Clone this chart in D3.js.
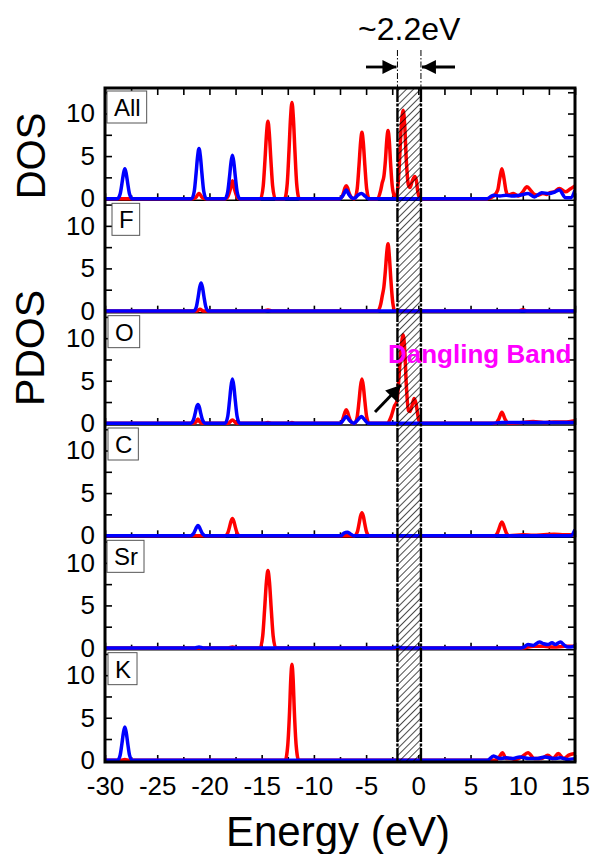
<!DOCTYPE html>
<html>
<head>
<meta charset="utf-8">
<script src="https://cdn.jsdelivr.net/npm/d3@7"></script>
<style>
  body { margin: 0; background: #fff; }
  svg { display: block; font-family: "Liberation Sans", Arial, sans-serif; }
</style>
</head>
<body>
<svg id="chart" width="592" height="854"></svg>
<script>
// panel labels, top to bottom
const panelNames = ["All", "F", "O", "C", "Sr", "K"];

// [energy (eV), states]
const allRed = [[-30,0],[-21.6,0],[-21.3,0.15],[-21.1,0.5],[-21.0,0.6],[-20.9,0.5],[-20.7,0.15],[-20.4,0],
  [-18.45,0],[-18.2,0.35],[-18.0,1.1],[-17.8,2.1],[-17.6,1.1],[-17.4,0.35],[-17.15,0],
  [-15.1,0],[-14.85,1.5],[-14.68,4.6],[-14.53,7.7],[-14.4,9.1],[-14.27,7.7],[-14.12,4.6],[-13.95,1.5],[-13.7,0],
  [-12.8,0],[-12.55,1.8],[-12.38,5.7],[-12.23,9.6],[-12.1,11.3],[-11.97,9.6],[-11.82,5.7],[-11.65,1.8],[-11.4,0],
  [-7.55,0],[-7.3,0.25],[-7.15,0.75],[-7.02,1.3],[-6.9,1.5],[-6.78,1.3],[-6.65,0.75],[-6.45,0.2],[-6.2,0],
  [-6.1,0],[-5.85,1.2],[-5.68,3.9],[-5.53,6.6],[-5.4,7.8],[-5.27,6.6],[-5.12,3.9],[-4.95,1.2],[-4.7,0],
  [-3.9,0],[-3.6,1.0],[-3.45,1.9],[-3.3,2.6],[-3.15,4.5],[-3.02,6.9],[-2.9,8.0],[-2.78,6.8],[-2.65,4.0],[-2.5,1.5],[-2.3,0.3],
  [-2.15,0.1],[-1.95,1.5],[-1.8,4.5],[-1.65,8.2],[-1.45,10.4],[-1.3,8.5],[-1.15,4.5],[-0.95,1.6],[-0.8,1.3],
  [-0.6,2.0],[-0.35,2.6],[-0.2,2.2],[-0.05,0.8],[0.15,0],
  [6.6,0],[7.2,0.3],[7.6,1.0],[7.8,2.4],[8.0,3.5],[8.2,2.4],[8.4,0.9],[8.6,0.4],[9.1,0.6],[9.6,0.3],[10.0,0.8],
  [10.4,1.4],[10.8,0.9],[11.1,0.5],[11.5,0.4],[11.9,0.6],[12.3,0.5],[12.6,0.7],[13.0,0.8],[13.5,1.2],[14.1,0.8],[14.5,1.1],[15,1.5]];
const allBlue = [[-30,0],[-28.8,0],[-28.55,0.55],[-28.38,1.75],[-28.23,2.95],[-28.1,3.5],[-27.97,2.95],[-27.82,1.75],[-27.65,0.55],[-27.4,0],
  [-21.7,0],[-21.45,0.9],[-21.28,2.95],[-21.13,5.0],[-21.0,5.9],[-20.87,5.0],[-20.72,2.95],[-20.55,0.9],[-20.3,0],
  [-18.5,0],[-18.25,0.8],[-18.08,2.55],[-17.93,4.3],[-17.8,5.1],[-17.67,4.3],[-17.52,2.55],[-17.35,0.8],[-17.1,0],
  [-7.5,0],[-7.2,0.4],[-6.9,1.0],[-6.6,0.4],[-6.3,0.05],[-6.1,0.05],[-5.8,0.4],[-5.45,0.6],[-5.1,0.3],[-4.8,0],
  [6.6,0],[7.0,0.3],[7.2,0.4],[7.8,0.3],[8.4,0.4],[8.9,0.3],[9.7,0.4],[10.5,0.6],[11.1,0.2],[11.8,0.7],[12.5,0.6],
  [13.1,0.8],[13.5,1.0],[14.1,0.1],[14.6,0.1],[15,1.0]];

const fRed = [[-30,0],[-21.2,0],[-20.9,0.2],[-20.6,0],[-14.8,0],[-14.4,0.1],[-14.0,0],
  [-3.9,0],[-3.6,0.8],[-3.45,1.8],[-3.3,2.8],[-3.15,4.8],[-3.02,6.9],[-2.9,7.9],[-2.78,6.5],[-2.62,3.5],[-2.45,1.0],[-2.25,0],
  [9.6,0],[10.0,0.15],[10.4,0],[15,0]];
const fBlue = [[-30,0],[-21.5,0],[-21.25,0.5],[-21.08,1.65],[-20.93,2.8],[-20.8,3.3],[-20.67,2.8],[-20.52,1.65],[-20.35,0.5],[-20.1,0],[15,0]];

const oRed = [[-30,0],[-21.6,0],[-21.3,0.15],[-21.1,0.5],[-20.9,0.15],[-20.6,0],[-18.2,0],[-17.8,0.4],[-17.4,0],
  [-14.8,0],[-14.4,0.1],[-14.0,0],[-12.4,0],[-12.1,0.1],[-11.8,0],
  [-7.5,0],[-7.3,0.25],[-7.15,0.8],[-7.02,1.35],[-6.9,1.6],[-6.78,1.35],[-6.65,0.8],[-6.45,0.2],[-6.2,0],
  [-6.1,0],[-5.85,0.8],[-5.68,2.6],[-5.53,4.4],[-5.4,5.2],[-5.27,4.4],[-5.12,2.6],[-4.95,0.8],[-4.7,0],
  [-3.0,0],[-2.6,0.8],[-2.3,2.0],[-2.05,2.6],[-1.85,5.5],[-1.65,8.8],[-1.45,10.4],[-1.3,8.5],[-1.15,4.5],[-0.95,1.5],
  [-0.8,1.4],[-0.6,2.1],[-0.4,2.9],[-0.2,2.2],[0.0,0.6],[0.15,0],
  [7.4,0],[7.7,0.5],[8.0,1.3],[8.3,0.5],[8.6,0],[10,0.1],[11,0.2],[12,0.1],[13,0.15],[14,0.15],[15,0.3]];
const oBlue = [[-30,0],[-21.8,0],[-21.55,0.35],[-21.38,1.1],[-21.23,1.9],[-21.1,2.2],[-20.97,1.9],[-20.82,1.1],[-20.65,0.35],[-20.4,0],
  [-18.5,0],[-18.25,0.8],[-18.08,2.6],[-17.93,4.4],[-17.8,5.2],[-17.67,4.4],[-17.52,2.6],[-17.35,0.8],[-17.1,0],
  [-7.5,0],[-7.2,0.35],[-6.9,0.8],[-6.6,0.35],[-6.2,0],[-5.8,0.4],[-5.45,0.8],[-5.1,0.35],[-4.8,0],
  [7,0],[8,0.1],[15,0.1]];

const cRed = [[-30,0],[-18.5,0],[-18.25,0.3],[-18.08,1.0],[-17.93,1.7],[-17.8,2.0],[-17.67,1.7],[-17.52,1.0],[-17.35,0.3],[-17.1,0],
  [-6.1,0],[-5.85,0.4],[-5.68,1.35],[-5.53,2.3],[-5.4,2.7],[-5.27,2.3],[-5.12,1.35],[-4.95,0.4],[-4.7,0],
  [7.3,0],[7.55,0.25],[7.72,0.8],[7.87,1.35],[8.0,1.6],[8.13,1.35],[8.28,0.8],[8.45,0.25],[8.7,0],
  [10,0.1],[11,0.05],[12,0.1],[13,0.15],[14,0.1],[15,0.1]];
const cBlue = [[-30,0],[-21.8,0],[-21.55,0.2],[-21.38,0.6],[-21.23,1.0],[-21.1,1.2],[-20.97,1.0],[-20.82,0.6],[-20.65,0.2],[-20.4,0],
  [-7.4,0],[-7.1,0.3],[-6.8,0.4],[-6.5,0.2],[-6.2,0],[14.6,0],[15,0.7]];

const srRed = [[-30,0],[-18.2,0],[-17.8,0.1],[-17.4,0],
  [-15.15,0],[-14.9,1.4],[-14.72,4.5],[-14.55,7.7],[-14.4,9.1],[-14.25,7.7],[-14.08,4.5],[-13.9,1.4],[-13.65,0],
  [10,0],[11,0.2],[12,0.2],[13,0.1],[14,0.2],[15,0.2]];
const srBlue = [[-30,0],[-21.4,0],[-21.0,0.1],[-20.6,0],[-2.5,0],[-2.0,0.1],[-1.5,0],
  [9.8,0],[10.1,0.1],[10.5,0.4],[11.0,0.3],[11.6,0.7],[12.0,0.5],[12.4,0.4],[12.8,0.6],[13.1,0.4],[13.6,0.7],
  [14.0,0.3],[14.3,0.1],[14.8,0.15],[15,0.3]];

const kRed = [[-30,0],[-28.5,0],[-28.1,0.1],[-27.7,0],
  [-12.75,0],[-12.5,1.8],[-12.33,5.7],[-12.21,9.6],[-12.1,11.3],[-11.99,9.6],[-11.87,5.7],[-11.7,1.8],[-11.45,0],
  [7.2,0],[7.5,0.1],[7.8,0.5],[8.05,0.9],[8.4,0.2],[8.9,0.2],[9.3,0.1],[9.9,0.4],[10.5,0.9],[11.1,0.2],[11.8,0.2],
  [12.4,0.6],[12.9,0.2],[13.4,0.8],[13.9,0.2],[14.4,0.6],[15,0.8]];
const kBlue = [[-30,0],[-28.8,0],[-28.55,0.6],[-28.38,1.95],[-28.23,3.3],[-28.1,3.9],[-27.97,3.3],[-27.82,1.95],[-27.65,0.6],[-27.4,0],
  [6.6,0],[7.2,0.5],[7.8,0.2],[8.4,0.3],[9.1,0.2],[9.7,0.4],[10.6,0.2],[11.4,0.2],[12.1,0.4],[13.0,0.2],[13.6,0.3],[14.3,0.1],[15,0.2]];

const redSeries = [allRed, fRed, oRed, cRed, srRed, kRed];
const blueSeries = [allBlue, fBlue, oBlue, cBlue, srBlue, kBlue];

const xTicks = [-30, -25, -20, -15, -10, -5, 0, 5, 10, 15];
const xMinorTicks = [-27.5, -22.5, -17.5, -12.5, -7.5, -2.5, 2.5, 7.5, 12.5];
const yTicks = [0, 5, 10];
const yMinorTicks = [2.5, 7.5, 12.5];
const gapEdges = [-2.0, 0.25];   // hatched band gap, eV
const gapLabel = "~2.2eV";

// layout
const svg = d3.select("#chart");
const plotLeft = 105, plotRight = 575, plotTop = 88, plotBottom = 762;
const ph = (plotBottom - plotTop) / panelNames.length;
const labelDx = [2, 7, 3, 3, 2, 3];

const x = d3.scaleLinear().domain([-30, 15]).range([plotLeft, plotRight]);

const defs = svg.append("defs");
defs.append("clipPath").attr("id", "plotclip")
    .append("rect").attr("x", plotLeft).attr("y", plotTop - 10)
    .attr("width", plotRight - plotLeft).attr("height", plotBottom - plotTop + 10);

const hatch = defs.append("pattern")
    .attr("id", "hatch")
    .attr("patternUnits", "userSpaceOnUse")
    .attr("width", 5).attr("height", 5)
    .attr("patternTransform", "rotate(45)");
hatch.append("line")
    .attr("x1", 0).attr("y1", 0).attr("x2", 0).attr("y2", 5)
    .attr("stroke", "#000").attr("stroke-width", 1.4);

defs.append("marker")
    .attr("id", "head")
    .attr("viewBox", "0 0 10 10")
    .attr("refX", 10).attr("refY", 5)
    .attr("markerWidth", 6).attr("markerHeight", 5)
    .attr("markerUnits", "strokeWidth")
    .attr("orient", "auto")
    .append("path").attr("d", "M0,0 L10,5 L0,10 Z").attr("fill", "#000");

panelNames.forEach((name, i) => {
    const pTop = plotTop + i * ph;
    const y = d3.scaleLinear().domain([-0.2, 13]).range([pTop + ph, pTop]);
    const g = svg.append("g");

    // bottom axis of the panel, ticks pointing in
    const bAxis = g.append("g").attr("transform", `translate(0,${pTop + ph})`)
        .call(d3.axisBottom(x).tickValues(xTicks).tickSize(-7).tickPadding(15));
    g.append("g").attr("transform", `translate(0,${pTop + ph})`)
        .call(d3.axisBottom(x).tickValues(xMinorTicks).tickSize(-5).tickFormat(""));
    if (i === 0) {
        g.append("g").attr("transform", `translate(0,${pTop})`)
            .call(d3.axisTop(x).tickValues(xTicks.concat(xMinorTicks)).tickSize(-7).tickFormat(""));
    }

    g.append("g").attr("transform", `translate(${plotLeft},0)`)
        .call(d3.axisLeft(y).tickValues(yTicks).tickSize(-7).tickPadding(10).tickFormat(d3.format("d")));
    g.append("g").attr("transform", `translate(${plotLeft},0)`)
        .call(d3.axisLeft(y).tickValues(yMinorTicks).tickSize(-7).tickFormat(""));
    g.append("g").attr("transform", `translate(${plotRight},0)`)
        .call(d3.axisRight(y).tickValues(yTicks.concat(yMinorTicks).filter(v => v > 0)).tickSize(-7).tickFormat(""));

    g.selectAll(".domain").remove();
    g.selectAll(".tick line").attr("stroke", "#000").attr("stroke-width", 1.6);
    g.selectAll(".tick text").attr("fill", "#000").attr("font-size", "26px")
        .attr("font-family", "'Liberation Sans', Arial, sans-serif");
    bAxis.selectAll(".tick text").text(d => i === panelNames.length - 1 ? String(d) : "");

    // panel separator
    g.append("line")
        .attr("x1", plotLeft).attr("x2", plotRight)
        .attr("y1", pTop + ph).attr("y2", pTop + ph)
        .attr("stroke", "#000").attr("stroke-width", 1.5);

    const line = d3.line()
        .x(d => x(d[0]))
        .y(d => y(d[1]))
        .curve(d3.curveMonotoneX);

    g.append("path")
        .datum(redSeries[i])
        .attr("clip-path", "url(#plotclip)")
        .attr("fill", "none")
        .attr("stroke", "#ff0000")
        .attr("stroke-width", 3.5)
        .attr("stroke-linejoin", "round")
        .attr("d", line);

    g.append("path")
        .datum(blueSeries[i])
        .attr("clip-path", "url(#plotclip)")
        .attr("fill", "none")
        .attr("stroke", "#0000ff")
        .attr("stroke-width", 3.5)
        .attr("stroke-linejoin", "round")
        .attr("d", line);

    // element label in a box
    const box = g.append("rect");
    const lbl = g.append("text")
        .attr("x", plotLeft + labelDx[i] + 7)
        .attr("y", pTop + 28)
        .attr("font-size", "24px")
        .attr("fill", "#000")
        .text(name);
    const bb = lbl.node().getBBox();
    box.attr("x", plotLeft + labelDx[i]).attr("y", pTop + 3)
        .attr("width", bb.width + 13).attr("height", 32)
        .attr("fill", "#fff").attr("stroke", "#555").attr("stroke-width", 1);
});

// hatched gap band
const gx0 = x(gapEdges[0]), gx1 = x(gapEdges[1]);
svg.append("rect")
    .attr("x", gx0).attr("y", plotTop)
    .attr("width", gx1 - gx0).attr("height", plotBottom - plotTop)
    .attr("fill", "url(#hatch)");
[gx0, gx1].forEach(gx => {
    svg.append("line")
        .attr("x1", gx).attr("x2", gx).attr("y1", plotTop).attr("y2", plotBottom)
        .attr("stroke", "#000").attr("stroke-width", 2.4)
        .attr("stroke-dasharray", "14,1.5,3,1.5");
    svg.append("line")
        .attr("x1", gx).attr("x2", gx).attr("y1", 50).attr("y2", plotTop)
        .attr("stroke", "#000").attr("stroke-width", 1)
        .attr("stroke-dasharray", "6,2,1.5,2");
});

// frame
svg.append("rect")
    .attr("x", plotLeft).attr("y", plotTop)
    .attr("width", plotRight - plotLeft).attr("height", plotBottom - plotTop)
    .attr("fill", "none").attr("stroke", "#000").attr("stroke-width", 3);

// gap arrows
svg.append("line")
    .attr("x1", 366).attr("x2", gx0 - 1).attr("y1", 67).attr("y2", 67)
    .attr("stroke", "#000").attr("stroke-width", 2.8).attr("marker-end", "url(#head)");
svg.append("line")
    .attr("x1", 455).attr("x2", gx1 + 1).attr("y1", 67).attr("y2", 67)
    .attr("stroke", "#000").attr("stroke-width", 2.8).attr("marker-end", "url(#head)");

svg.append("text")
    .attr("x", (gx0 + gx1) / 2).attr("y", 40)
    .attr("text-anchor", "middle")
    .attr("font-size", "32px")
    .text(gapLabel);

// dangling band note
svg.append("text")
    .attr("x", 388).attr("y", 363)
    .attr("font-size", "26px").attr("font-weight", "bold")
    .attr("fill", "#ff00ff")
    .text("Dangling Band");
svg.append("line")
    .attr("x1", 375).attr("y1", 412).attr("x2", 401).attr("y2", 385)
    .attr("stroke", "#000").attr("stroke-width", 3).attr("marker-end", "url(#head)");

// axis titles
svg.append("text")
    .attr("transform", "translate(45,156) rotate(-90)")
    .attr("text-anchor", "middle").attr("font-size", "40px")
    .text("DOS");
svg.append("text")
    .attr("transform", "translate(44,348) rotate(-90)")
    .attr("text-anchor", "middle").attr("font-size", "41px")
    .text("PDOS");
svg.append("text")
    .attr("x", 338).attr("y", 846)
    .attr("text-anchor", "middle").attr("font-size", "42px")
    .text("Energy (eV)");
</script>
</body>
</html>
